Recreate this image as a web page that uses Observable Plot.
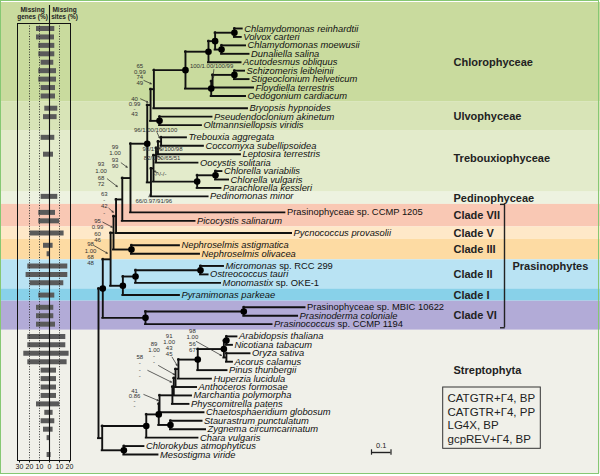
<!DOCTYPE html>
<html><head><meta charset="utf-8">
<script src="https://cdn.jsdelivr.net/npm/d3@7"></script>
<script src="https://cdn.jsdelivr.net/npm/@observablehq/plot@0.6"></script>
<style>
body{margin:0;background:#fff;}
#fig{position:relative;width:600px;height:476px;font-family:"Liberation Sans",Arial,sans-serif;}
#fig svg{position:absolute;left:0;top:0;}
#border{position:absolute;left:0;top:0;width:596.6px;height:471.6px;border:1.7px solid #86c873;pointer-events:none}
</style></head><body><div id="fig"></div>
<script>
// ---------------- DATA ----------------
const tips = [
"Chlamydomonas reinhardtii","Volvox carteri","Chlamydomonas moewusii","Dunaliella salina","Acutodesmus obliquus","Schizomeris leibleinii","Stigeoclonium helveticum","Floydiella terrestris","Oedogonium cardiacum",
"Bryopsis hypnoides","Pseudendoclonium akinetum","Oltmannsiellopsis viridis",
"Trebouxia aggregata","Coccomyxa subellipsoidea","Leptosira terrestris","Oocystis solitaria","Chlorella variabilis","Chlorella vulgaris","Parachlorella kessleri",
"Pedinomonas minor",
"Prasinophyceae sp. CCMP 1205","Picocystis salinarum",
"Pycnococcus provasolii",
"Nephroselmis astigmatica","Nephroselmis olivacea",
"Micromonas sp. RCC 299","Ostreococcus tauri","Monomastix sp. OKE-1",
"Pyramimonas parkeae",
"Prasinophyceae sp. MBIC 10622","Prasinoderma coloniale","Prasinococcus sp. CCMP 1194",
"Arabidopsis thaliana","Nicotiana tabacum","Oryza sativa","Acorus calamus","Pinus thunbergii","Huperzia lucidula","Anthoceros formosae","Marchantia polymorpha","Physcomitrella patens","Chaetosphaeridium globosum","Staurastrum punctulatum","Zygnema circumcarinatum","Chara vulgaris","Chlorokybus atmophyticus","Mesostigma viride"];
const tipParent = ["CV","CV","CD","CD","CS","SS","SS","SSF","OCC","CB","ULV","ULV","TC","TC","TL","TLO","CHP","CHP","CHLC","TP","N130","N122","N116","NEPH","NEPH","MO","MO","MAM","CL21","MP","MP","CL6","EU","EU","MON","MON","SEED","V","LP2","LP1","LP0","SC","ZS","ZS","SA","CM","CM"];
const tipDepth = [0.737,0.732,0.754,0.772,0.731,0.749,0.772,0.795,0.754,0.764,0.582,0.528,0.451,0.538,0.728,0.510,0.633,0.667,0.628,0.562,0.956,0.495,0.990,0.415,0.518,0.641,0.562,0.626,0.415,1.059,1.021,0.890,0.710,0.687,0.777,0.687,0.659,0.579,0.503,0.477,0.464,0.541,0.531,0.549,0.510,0.233,0.305];
const missingGenes = [13,13,10.7,10.7,8.4,10.7,10.7,8.4,8.4, 4.7,6,0, 8.4,0,6,0,0,0,0, 8.4, 10.7,10.7, 19.4, 6,2.4, 21.7,23.4,19.4, 10.7, 13,13,13, 21.7,21.7,25.7,21.7,8.4,8.4,8.4,8.4,13,4.7,8.4,6,2.4,0,2.4];
const missingSites = [5.3,5,5.3,5.3,4.3,7,7,6,6, 8.3,7.6,0, 5.3,0,4,0,0,0,0, 8.3, 6,10, 14.6, 3.6,0, 18.3,18.3,14.3, 5.3, 4.3,4.3,6, 16.3,16.3,19.6,17.6,7,7,7,7,10.3,3.6,5.3,3.6,0,0,1.6];
const missingTicks = [-30,-20,-10,0,10,20];

const bands = ["Chlorophyceae","Ulvophyceae","Trebouxiophyceae","Pedinophyceae","Clade VII","Clade V","Clade III","Clade II","Clade I","Clade VI","Streptophyta"];
const bandSizes = [9,3,7,1,2,1,2,3,1,3,15];
const bandColors = ["#c9db9e","#d8e4b7","#e3ebcb","#edf2e0","#f9c8b4","#fee8c8","#fddba3","#b9e3f3","#88d1e9","#b2abd7","#f0f0e9"];
const prasinophyteBands = ["Clade VII","Clade V","Clade III","Clade II","Clade I","Clade VI"];

const nodeIds =    ["ROOT","CHL","STR","N110","CL6","N113","CL21","N116","NEPH","N122","N130","CROWN","UC","TP","CB","ULV","CHLO","CS","OCC","CVCD","CV","CD","SSF","SS","TLOC","TLO","TL","TC","CHLC","CHP","MAM","MO","MP","CM","SA","SB","SC","ZS","LP0","LP1","LP2","V","SEED","ANG","EU","MON"];
const nodeParents = [null,"ROOT","ROOT","CHL","CHL","N110","N110","N113","N113","N116","N122","N130","CROWN","CROWN","UC","UC","CB","CHLO","CHLO","CS","CVCD","CVCD","OCC","SSF","TP","TLOC","TLO","TL","TLOC","CHLC","CL21","MAM","CL6","STR","STR","SA","SB","SB","SC","LP0","LP1","LP2","V","SEED","ANG","ANG"];
const nodeDepths = [0,0.022,0.019,0.062,0.241,0.077,0.125,0.090,0.169,0.122,0.164,0.250,0.267,0.269,0.284,0.313,0.446,0.564,0.578,0.598,0.697,0.631,0.585,0.697,0.282,0.295,0.305,0.321,0.506,0.600,0.190,0.523,0.745,0.130,0.245,0.309,0.313,0.369,0.379,0.386,0.395,0.410,0.509,0.643,0.656,0.656];
const fullSupport = ["CV","CD","CVCD","CS","SS","OCC","CHLO","ULV","CROWN","CHP","CHLC","NEPH","MO","MAM","CL21","CHL","CL6","MP","EU","ANG","SEED","ZS","SB","SA","CM"];

const supportNodes = ["CB","UC","SSF","TC","TL","TLO","TLOC","TP","N130","N122","N116","N113","N110","MON","V","LP2","LP1","SC"];
const supportValues = ["65/0.99/74/49","40/0.99/-/43","100/1.00/100/99","96/1.00/100/100","93/1.00/100/98","82/1.00/65/51","-/-/-/-","66/0.97/91/96","99/1.00/93/90","93/1.00/68/72","63/-/42/-","95/0.99/60/46","98/1.00/68/48","98/1.00/56/67","91/1.00/43/45","89/1.00/-/-","58/-/-/-","41/0.86/-/-"];

const legendLines = ["CATGTR+\u03934, BP","CATGTR+\u03934, PP","LG4X, BP","gcpREV+\u03934, BP"];
const scaleBarLength = 0.1;

// ---------------- LAYOUT (style) ----------------
const X0 = 98, PXX = 195;              // root pixel, px per substitution unit
const bandGap = {"Pedinophyceae": 0, "Clade VII": 0.9};
const labelAnchor = {"Chlorophyceae": ["Acutodesmus obliquus"], "Trebouxiophyceae": ["Leptosira terrestris","Oocystis solitaria"], "Streptophyta": ["Pinus thunbergii"]};
const supLayout = {
  CB:  {l:[-14,-22.7], s:5.5, a:[-10,-8.7,-2.6,-5.4]},
  UC:  {l:[-16,-6], s:5, a:[-10,-6.2,-2.7,-2.8]},
  SSF: {l:[-1,-15], inline:"middle", a:[1.3,-11.7,0.3,-3.4]},
  TC:  {l:[-5.5,-11.7], inline:"start", a:[-4,-9,-1.5,-3.5]},
  TL:  {l:[4.5,1], inline:"start", a:[3.8,2,1,0]},
  TLO: {l:[6,2.5], inline:"start", a:[5.3,3.2,1.5,0.7]},
  TLOC:{l:[6.5,5.3], inline:"start", a:[5,4.7,0.8,2.7]},
  TP:  {l:[2.8,19], inline:"middle", a:[-2.2,14.5,0.5,8.5]},
  N130:{l:[-15.5,-30.8], s:6.3, a:[-9.3,-15.2,-3.3,-10.8]},
  N122:{l:[-21.2,-34.9], s:6.6, a:[-15,-20.6,-5,-12.9]},
  N116:{l:[-11.8,-22.4], s:6.3, a:[-7.2,-8,-2.8,-4]},
  N113:{l:[-16,-11.7], s:6.2, a:[-10.7,-10.7,-1.3,-5.7]},
  N110:{l:[-20,-15.1], s:6.4, a:[-16.7,-13.8,-3.3,-6.1]},
  MON: {l:[-34,-26.3], s:6.2, a:[-30,-16,-5,-2]},
  V:   {l:[-9.3,-32.9], s:6, a:[-6.3,-11.9,-1.3,-3.6]},
  LP2: {l:[-21.5,-34.2], s:6, a:[-17,-12.5,-1,-3.5]},
  LP1: {l:[-34,-29.6], s:6.4, a:[-26,-16.3,-2.3,-4.6]},
  SC:  {l:[-25,-12.6], s:5, a:[-15.7,-9.3,-1.3,-3.3]}
};

// ---------------- DERIVED ----------------
const bandOf = [];
bandSizes.forEach((n, b) => { for (let k = 0; k < n; k++) bandOf.push(b); });
const rowY = [];
{ let r = 0;
  tips.forEach((t, i) => {
    if (i > 0) { r += 1; if (bandOf[i] !== bandOf[i-1]) { const g = bandGap[bands[bandOf[i]]]; r += (g === undefined ? 0.45 : g); } }
    rowY.push(r);
  });
}
const yMax = rowY[rowY.length - 1];
const PXY = (454 - 28) / yMax;
const xAt = p => (p - X0) / PXX;
const yAt = p => (p - 28) / PXY;

const depth = {}, parentOf = {}, children = {};
nodeIds.forEach((id, i) => { depth[id] = nodeDepths[i]; parentOf[id] = nodeParents[i]; if (nodeParents[i]) (children[nodeParents[i]] ||= []).push(id); });
tips.forEach((t, i) => { depth[t] = tipDepth[i]; parentOf[t] = tipParent[i]; (children[tipParent[i]] ||= []).push(t); });
const tipIndex = Object.fromEntries(tips.map((t, i) => [t, i]));
const yCache = {};
function yOf(id) {
  if (id in yCache) return yCache[id];
  let v;
  if (id in tipIndex) v = rowY[tipIndex[id]];
  else { const ys = children[id].map(yOf); v = (Math.min(...ys) + Math.max(...ys)) / 2; }
  return (yCache[id] = v);
}
const allIds = [...nodeIds, ...tips];
const hSeg = allIds.filter(id => parentOf[id]).map(id => ({y: yOf(id), x1: depth[parentOf[id]], x2: depth[id]}));
const vSeg = nodeIds.map(id => { const ys = children[id].map(yOf); return {x: depth[id], y1: Math.min(...ys), y2: Math.max(...ys)}; });
const tipRows = tips.map((t, i) => ({name: t, x: tipDepth[i], y: rowY[i], genes: missingGenes[i], sites: missingSites[i]}));
const dots = fullSupport.map(id => ({x: depth[id], y: yOf(id)}));

const bounds = [];
{ let start = 0;
  bandSizes.forEach((n, b) => {
    const first = start, last = start + n - 1;
    const top = b === 0 ? yAt(2) : (rowY[first - 1] + rowY[first]) / 2;
    const bot = b === bands.length - 1 ? yAt(473) : (rowY[last] + rowY[last + 1]) / 2;
    let ly = (top + bot) / 2;
    if (labelAnchor[bands[b]]) { const a = labelAnchor[bands[b]].map(t => rowY[tipIndex[t]]); ly = d3.mean(a); }
    bounds.push({name: bands[b], color: bandColors[b], y1: top, y2: bot, ly});
    start += n;
  });
}
const pras = bounds.filter(d => prasinophyteBands.includes(d.name));
const prasTop = d3.min(pras, d => d.y1), prasBot = d3.max(pras, d => d.y2) - 0.3;

const supText = [], supArrows = [];
supportNodes.forEach((id, k) => {
  const L = supLayout[id], nx = depth[id], ny = yOf(id);
  if (L.inline) {
    supText.push({x: nx + L.l[0] / PXX, y: ny + L.l[1] / PXY, t: supportValues[k], anchor: L.inline});
  } else {
    supportValues[k].split("/").forEach((t, i) => supText.push({x: nx + L.l[0] / PXX, y: ny + (L.l[1] + i * L.s) / PXY, t, anchor: "middle"}));
  }
  supArrows.push({x1: nx + L.a[0] / PXX, y1: ny + L.a[1] / PXY, x2: nx + L.a[2] / PXX, y2: ny + L.a[3] / PXY});
});

const FONT = "'Liberation Sans', Arial, Helvetica, sans-serif";
const sb0 = xAt(371);

const tree = Plot.plot({
  width: 600, height: 476, margin: 0,
  x: {domain: [0, 1], range: [X0, X0 + PXX], axis: null},
  y: {domain: [0, yMax], range: [28, 454], axis: null},
  color: {type: "identity"},
  style: {fontFamily: FONT, background: "#fff", overflow: "visible"},
  marks: [
    Plot.rect(bounds, {x1: () => xAt(0), x2: () => xAt(600), y1: "y1", y2: "y2", fill: "color"}),
    Plot.ruleY(hSeg, {y: "y", x1: "x1", x2: "x2", stroke: "#111", strokeWidth: 1.9, strokeLinecap: "square"}),
    Plot.ruleX(vSeg, {x: "x", y1: "y1", y2: "y2", stroke: "#111", strokeWidth: 1.9, strokeLinecap: "square"}),
    Plot.dot(dots, {x: "x", y: "y", r: 3.3, fill: "#000"}),
    Plot.text(tipRows, {x: "x", y: "y", text: "name", textAnchor: "start", dx: 2, fontSize: 9.4, fontStyle: "italic", fill: "#111"}),
    Plot.arrow(supArrows, {x1: "x1", y1: "y1", x2: "x2", y2: "y2", stroke: "#222", strokeWidth: 0.7, headLength: 3}),
    Plot.text(supText, {x: "x", y: "y", text: "t", textAnchor: "anchor", fontSize: 6, fill: "#333"}),
    Plot.text(bounds, {frameAnchor: "left", dx: 453, y: "ly", text: "name", textAnchor: "start", fontSize: 11, fontWeight: "bold", fill: "#222"}),
    Plot.text(["Prasinophytes"], {frameAnchor: "left", dx: 512, y: () => (prasTop + prasBot) / 2, textAnchor: "start", fontSize: 11, fontWeight: "bold", fill: "#222"}),
    Plot.ruleX([0], {x: () => xAt(504), y1: () => prasTop, y2: () => prasBot, stroke: "#222", strokeWidth: 1.4}),
    Plot.ruleY([prasTop, prasBot], {y: d => d, x1: () => xAt(500), x2: () => xAt(504.7), stroke: "#222", strokeWidth: 1.4}),
    Plot.rect([0], {x1: () => xAt(442.7), x2: () => xAt(540.3), y1: () => yAt(387), y2: () => yAt(448.3), fill: "none", stroke: "#333", strokeWidth: 1}),
    Plot.text(legendLines, {x: () => xAt(447), y: (d, i) => yAt(398.3 + i * 13.4), text: d => d, textAnchor: "start", fontSize: 11.5, fill: "#222"}),
    Plot.ruleY([0], {y: () => yAt(452), x1: () => sb0, x2: () => sb0 + scaleBarLength, stroke: "#222", strokeWidth: 1.4}),
    Plot.ruleX([sb0, sb0 + scaleBarLength], {x: d => d, y1: () => yAt(449.3), y2: () => yAt(454.7), stroke: "#222", strokeWidth: 1.2}),
    Plot.text([String(scaleBarLength)], {x: () => sb0 + scaleBarLength / 2, y: () => yAt(445.5), text: d => d, fontSize: 7.5, fill: "#222"})
  ]
});

const bars = Plot.plot({
  width: 80, height: 476, marginLeft: 17, marginRight: 10, marginTop: 23, marginBottom: 16,
  x: {domain: [-32, 21], axis: null},
  y: {domain: [0, yMax], range: [28, 454], axis: null},
  style: {fontFamily: FONT, background: "none", overflow: "visible"},
  marks: [
    Plot.ruleY(tipRows, {y: "y", x1: d => -d.genes, x2: d => d.sites, stroke: "#5a5a5a", strokeWidth: 5}),
    Plot.ruleX([-20, -10, 10], {stroke: "#222", strokeWidth: 0.9, strokeDasharray: "1,1.6"}),
    Plot.ruleX([0], {y1: () => yAt(5), y2: () => yAt(460), stroke: "#111", strokeWidth: 1.1}),
    Plot.frame({stroke: "#111", strokeWidth: 1}),
    Plot.axisX(missingTicks, {anchor: "bottom", tickFormat: d => Math.abs(d), fontSize: 7, tickSize: 2.5, tickPadding: 1, label: null, stroke: "#111", fill: "#111"}),
    Plot.text([["Missing", -17, 9], ["genes (%)", -17, 16.5], ["Missing", 15, 9], ["sites (%)", 15, 16.5]],
      {x: d => d[1], y: d => yAt(d[2]), text: d => d[0], fontSize: 6.5, fontWeight: "bold", fill: "#222"})
  ]
});

const fig = document.getElementById("fig");
fig.appendChild(tree);
fig.appendChild(bars);
const border = document.createElement("div"); border.id = "border"; fig.appendChild(border);

// mixed italic / roman tip names
const ns = "http://www.w3.org/2000/svg";
tree.querySelectorAll("text").forEach(el => {
  const t = el.textContent;
  if (!(t in tipIndex)) return;
  let it = t, rest = "";
  if (t.startsWith("Prasinophyceae")) { it = ""; rest = t; }
  else { const k = t.indexOf(" sp."); if (k >= 0) { it = t.slice(0, k); rest = t.slice(k); } }
  if (rest) {
    el.textContent = "";
    if (it) { const a = document.createElementNS(ns, "tspan"); a.setAttribute("font-style", "italic"); a.style.fontStyle = "italic"; a.textContent = it; el.appendChild(a); }
    const b = document.createElementNS(ns, "tspan"); b.setAttribute("font-style", "normal"); b.style.fontStyle = "normal"; b.textContent = rest; el.appendChild(b);
  }
});
</script></body></html>
